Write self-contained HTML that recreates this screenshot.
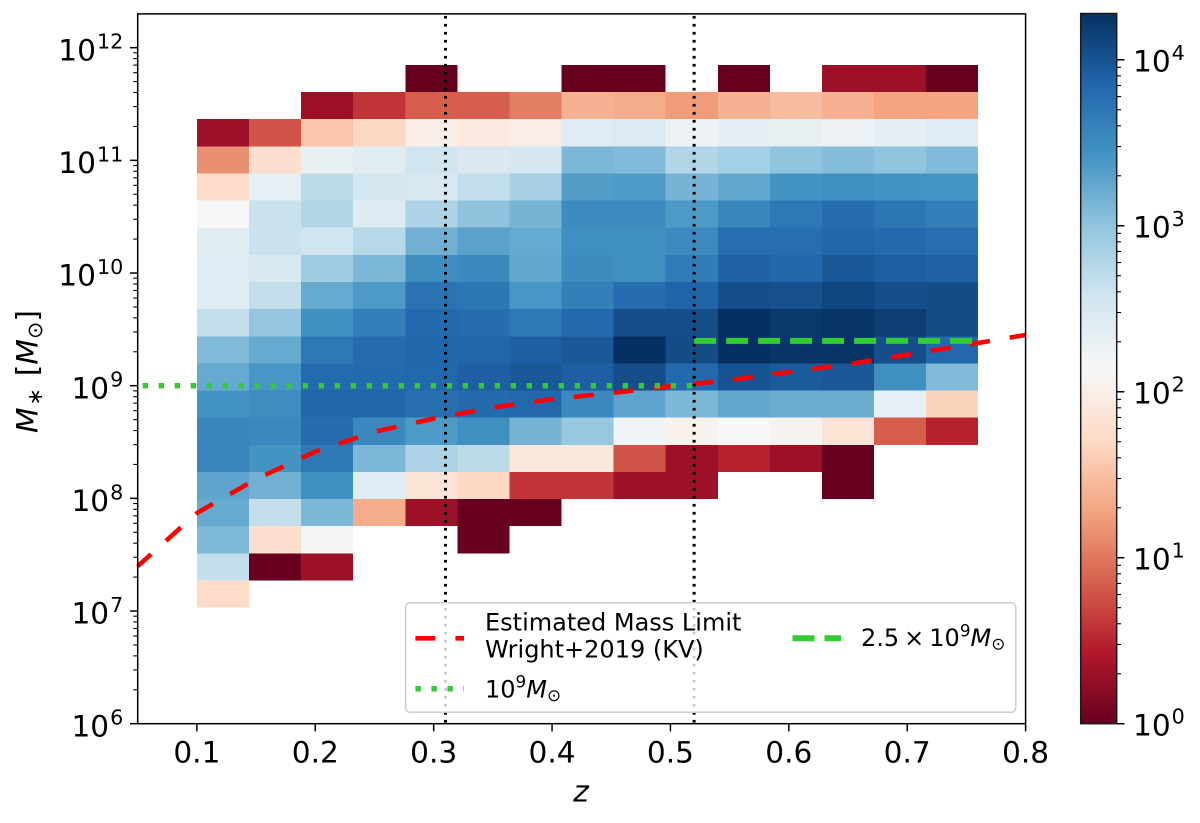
<!DOCTYPE html>
<html lang="en">
<head>
<meta charset="utf-8">
<title>Stellar mass versus redshift</title>
<style>
html,body{margin:0;padding:0;background:#fff;}
svg{display:block;font-family:"DejaVu Sans","Liberation Sans",sans-serif;fill:#000;}
</style>
</head>
<body>
<svg id="chart" width="1200" height="823" viewBox="0 0 1200 823" xmlns="http://www.w3.org/2000/svg">
  <defs>
    <linearGradient id="cbar-gradient" x1="0" y1="1" x2="0" y2="0"></linearGradient>
  </defs>
  <g id="heatmap"></g>
  <g id="lines"></g>
  <g id="axes"></g>
  <g id="colorbar"></g>

  <g>
    <rect x="405.6" y="602.7" width="610.2" height="109.6" rx="4.5" fill="#ffffff" fill-opacity="0.8" stroke="#cccccc" stroke-width="1.5"/>
    <line x1="415.4" y1="638.3" x2="464" y2="638.3" stroke="#ff0000" stroke-width="4.6" stroke-dasharray="20 20"/>
    <text x="485" y="630.7" font-size="24">Estimated Mass Limit</text>
    <text x="485" y="657.3" font-size="24">Wright+2019 (KV)</text>
    <line x1="415.4" y1="688.7" x2="464" y2="688.7" stroke="#32cd32" stroke-width="5.5" stroke-dasharray="5.5 10.5"/>
    <text x="485" y="697.3" font-size="24">10<tspan font-size="16.8" dy="-9.6">9</tspan><tspan font-style="italic" dy="9.6">M</tspan><tspan font-size="16.8" dy="3.6">⊙</tspan></text>
    <line x1="792.5" y1="638.3" x2="841" y2="638.3" stroke="#32cd32" stroke-width="6" stroke-dasharray="22 10"/>
    <text x="861" y="646" font-size="24">2.5<tspan dx="5">×</tspan><tspan dx="5">10</tspan><tspan font-size="16.8" dy="-9.6">9</tspan><tspan font-style="italic" dy="9.6">M</tspan><tspan font-size="16.8" dy="3.6">⊙</tspan></text>
  </g>
</svg>

<script>
// ---- Data ----
const zBinEdges = [0.1, 0.144, 0.188, 0.232, 0.276, 0.32, 0.364, 0.408, 0.452, 0.496, 0.54, 0.584, 0.628, 0.672, 0.716, 0.76];
const logMassBinEdges = [11.847, 11.606, 11.365, 11.124, 10.883, 10.643, 10.402, 10.161, 9.92, 9.679, 9.438, 9.198, 8.957, 8.716, 8.475, 8.234, 7.994, 7.753, 7.512, 7.271, 7.03];
const _ = null;
// one row per mass bin (most massive first), one entry per redshift bin
const galaxyCounts = [
  [_, _, _, _, 1, _, _, 1, 1, _, 1, _, 2, 2, 1],
  [_, _, 2, 4, 7, 7, 11, 24, 22, 17, 24, 30, 24, 19, 19],
  [2, 6, 35, 49, 100, 83, 100, 250, 275, 185, 225, 205, 185, 225, 250],
  [14, 60, 200, 235, 367, 290, 330, 1300, 1200, 600, 730, 1000, 1150, 1000, 1200],
  [55, 215, 500, 330, 315, 450, 700, 2200, 2300, 1400, 1800, 2650, 2900, 2650, 2600],
  [138, 410, 600, 270, 640, 1030, 1400, 3200, 3200, 2300, 3500, 4800, 6100, 5000, 4100],
  [235, 410, 367, 545, 1500, 2000, 1700, 2900, 2800, 3200, 6000, 6000, 7000, 6500, 6000],
  [250, 300, 800, 1300, 3000, 3300, 1800, 3100, 2900, 4500, 7700, 7000, 9400, 8200, 7800],
  [250, 450, 1700, 2300, 5300, 5000, 2500, 4100, 6100, 7400, 11000, 10500, 12800, 11000, 11500],
  [460, 950, 2800, 4100, 6700, 6100, 4800, 6700, 11000, 11000, 19000, 16000, 17500, 15000, 11500],
  [1200, 1700, 4800, 6300, 7000, 7200, 8100, 9200, 19000, 11500, 19000, 17000, 18000, 11000, 6800],
  [1700, 2500, 6300, 6500, 6800, 8000, 9200, 8000, 11000, 6700, 10000, 8700, 9400, 2900, 1200],
  [2650, 3000, 7000, 7000, 5800, 6500, 6800, 3300, 1900, 1300, 1800, 1600, 1600, 215, 45],
  [3500, 3400, 6400, 3400, 2300, 2900, 1400, 900, 165, 110, 138, 115, 70, 7, 3],
  [3600, 2650, 4800, 1300, 640, 520, 80, 80, 6, 2, 3, 2, 1, _, _],
  [1900, 1500, 2900, 250, 70, 50, 4, 4, 2, 2, _, _, 1, _, _],
  [1700, 450, 1300, 22, 2, 1, 1, _, _, _, _, _, _, _, _],
  [1250, 60, 150, _, _, 1, _, _, _, _, _, _, _, _, _],
  [450, 1, 2, _, _, _, _, _, _, _, _, _, _, _, _],
  [55, _, _, _, _, _, _, _, _, _, _, _, _, _, _]
];
const limitZ = [0.05, 0.1, 0.15, 0.2, 0.25, 0.3, 0.35, 0.4, 0.45, 0.5, 0.55, 0.6, 0.65, 0.7, 0.75, 0.8];
const limitMass = [2.5e7, 7.4e7, 1.48e8, 2.6e8, 3.9e8, 5.1e8, 6.4e8, 7.6e8, 8.6e8, 9.9e8, 1.12e9, 1.32e9, 1.55e9, 1.88e9, 2.3e9, 2.82e9];
const lowMassCut = [1e9];
const lowCutZ = [0.05, 0.52];
const highMassCut = [2.5e9];
const highCutZ = [0.52, 0.76];
const redshiftCuts = [0.31, 0.52];
const xTickLabels = ["0.1", "0.2", "0.3", "0.4", "0.5", "0.6", "0.7", "0.8"];
const yTickExponents = ["6", "7", "8", "9", "10", "11", "12"];
const cbarTickExponents = ["0", "1", "2", "3", "4"];
const countMin = [1];
const countMax = [19000];
const zRange = [0.05, 0.8];
const logMassRange = [6, 12.3];
const rdBuStops = ["#67001f", "#b2182b", "#d6604d", "#f4a582", "#fddbc7", "#f7f7f7", "#d1e5f0", "#92c5de", "#4393c3", "#2166ac", "#053061"];

// ---- Geometry and scales ----
const plotLeft = 137.7, plotRight = 1025.6, plotBottom = 723.7, decadePx = 112.67;
const plotTop = plotBottom - (logMassRange[1] - logMassRange[0]) * decadePx;
const barLeft = 1080.7, barRight = 1116.7, barTop = 13.5, barBottom = 723.7;
const svgNS = "http://www.w3.org/2000/svg";

function xScale(z) { return plotLeft + (z - zRange[0]) / (zRange[1] - zRange[0]) * (plotRight - plotLeft); }
function yLog(logM) { return plotBottom - (logM - logMassRange[0]) * decadePx; }
function yScale(m) { return yLog(Math.log10(m)); }
function normCount(c) { return Math.log10(c / countMin[0]) / Math.log10(countMax[0] / countMin[0]); }
function cbarY(logC) { return barBottom - logC / Math.log10(countMax[0] / countMin[0]) * (barBottom - barTop); }

function hexToRgb(h) { return [1, 3, 5].map(function (i) { return parseInt(h.substr(i, 2), 16); }); }
function colorFor(t) {
  const clamped = Math.max(0, Math.min(1, t));
  const pos = clamped * (rdBuStops.length - 1);
  const i = Math.min(Math.floor(pos), rdBuStops.length - 2);
  const f = pos - i;
  const a = hexToRgb(rdBuStops[i]), b = hexToRgb(rdBuStops[i + 1]);
  return "rgb(" + a.map(function (v, k) { return Math.round(v + (b[k] - v) * f); }).join(",") + ")";
}
function svgEl(tag, attrs, parent) {
  const el = document.createElementNS(svgNS, tag);
  Object.keys(attrs).forEach(function (k) { el.setAttribute(k, attrs[k]); });
  parent.appendChild(el);
  return el;
}
function powerLabel(parent, exponent, xPos, yPos, anchor) {
  const t = svgEl("text", { x: xPos, y: yPos, "font-size": 29.6, "text-anchor": anchor }, parent);
  t.appendChild(document.createTextNode("10"));
  const s = svgEl("tspan", { "font-size": 20.7, dy: -11.7, dx: 1 }, t);
  s.textContent = exponent;
  return t;
}

// ---- Heatmap ----
const heatmap = document.getElementById("heatmap");
galaxyCounts.forEach(function (row, r) {
  row.forEach(function (count, c) {
    if (count === null) return;
    const x0 = xScale(zBinEdges[c]), x1 = xScale(zBinEdges[c + 1]);
    const y0 = yLog(logMassBinEdges[r]), y1 = yLog(logMassBinEdges[r + 1]);
    const cell = svgEl("rect", { x: x0, y: y0, width: x1 - x0, height: y1 - y0, fill: colorFor(normCount(count)), "shape-rendering": "crispEdges" }, heatmap);
    
    
  });
});

// ---- Lines ----
const lines = document.getElementById("lines");
const limitPoints = limitZ.map(function (z, i) { return xScale(z) + "," + yScale(limitMass[i]); }).join(" ");
const limitLine = svgEl("polyline", { points: limitPoints, fill: "none", stroke: "#ff0000", "stroke-width": 4.6, "stroke-dasharray": "20 20", "stroke-dashoffset": 2 }, lines);



const lowCut = svgEl("line", { x1: xScale(lowCutZ[0]), x2: xScale(lowCutZ[1]), y1: yScale(lowMassCut[0]), y2: yScale(lowMassCut[0]), stroke: "#32cd32", "stroke-width": 5.5, "stroke-dasharray": "5.3 10.7", "stroke-dashoffset": -5 }, lines);



const highCut = svgEl("line", { x1: xScale(highCutZ[0]), x2: xScale(highCutZ[1]), y1: yScale(highMassCut[0]), y2: yScale(highMassCut[0]), stroke: "#32cd32", "stroke-width": 6, "stroke-dasharray": "22 10" }, lines);



redshiftCuts.forEach(function (z) {
  const v = svgEl("line", { x1: xScale(z), x2: xScale(z), y1: plotTop, y2: plotBottom, stroke: "#000000", "stroke-width": 3, "stroke-dasharray": "2.8 5.2", "stroke-dashoffset": -2 }, lines);
  
  
});

// ---- Axes ----
const axes = document.getElementById("axes");
const frame = svgEl("rect", { x: plotLeft, y: plotTop, width: plotRight - plotLeft, height: plotBottom - plotTop, fill: "none", stroke: "#000000", "stroke-width": 1.5 }, axes);



xTickLabels.forEach(function (label) {
  const px = xScale(parseFloat(label));
  const tick = svgEl("line", { x1: px, x2: px, y1: plotBottom, y2: plotBottom + 7.7, stroke: "#000000", "stroke-width": 1.5 }, axes);
  
  
  const text = svgEl("text", { x: px, y: 762.7, "font-size": 29.6, "text-anchor": "middle" }, axes);
  text.textContent = label;
  
  
});

yTickExponents.forEach(function (exp) {
  const e = parseInt(exp, 10);
  const py = yLog(e);
  const tick = svgEl("line", { x1: plotLeft - 7.7, x2: plotLeft, y1: py, y2: py, stroke: "#000000", "stroke-width": 1.5 }, axes);
  
  
  const text = powerLabel(axes, exp, 123.3, py + 12.6, "end");
  
  
  for (let m = 2; m <= 9; m++) {
    const my = yLog(e + Math.log10(m));
    if (my < plotTop) continue;
    const minor = svgEl("line", { x1: plotLeft - 4.4, x2: plotLeft, y1: my, y2: my, stroke: "#000000", "stroke-width": 1.1 }, axes);
    
    
  }
});

const xTitle = svgEl("text", { x: 581, y: 801.7, "font-size": 29.6, "font-style": "italic", "text-anchor": "middle" }, axes);
xTitle.textContent = "z";



const yTitle = svgEl("text", { x: 0, y: 0, "font-size": 29.6, transform: "translate(37.5 433) rotate(-90)" }, axes);


const yM = svgEl("tspan", { "font-style": "italic" }, yTitle);
yM.textContent = "M";
const yStar = svgEl("tspan", { "font-size": 20.7, dy: 4.4, dx: 2 }, yTitle);
yStar.textContent = "∗";
const yOpen = svgEl("tspan", { dy: -4.4, dx: 12 }, yTitle);
yOpen.textContent = "[";
const yM2 = svgEl("tspan", { "font-style": "italic" }, yTitle);
yM2.textContent = "M";
const ySun = svgEl("tspan", { "font-size": 20.7, dy: 4.4 }, yTitle);
ySun.textContent = "⊙";
const yClose = svgEl("tspan", { dy: -4.4 }, yTitle);
yClose.textContent = "]";

// ---- Colorbar ----
const gradient = document.getElementById("cbar-gradient");
rdBuStops.forEach(function (color, i) {
  svgEl("stop", { offset: i / (rdBuStops.length - 1), "stop-color": color }, gradient);
});
const colorbar = document.getElementById("colorbar");
const barRect = svgEl("rect", { x: barLeft, y: barTop, width: barRight - barLeft, height: barBottom - barTop, fill: "url(#cbar-gradient)", stroke: "#1a1a1a", "stroke-width": 1.5 }, colorbar);



cbarTickExponents.forEach(function (exp) {
  const e = parseInt(exp, 10);
  const py = cbarY(e);
  const tick = svgEl("line", { x1: barRight, x2: barRight + 7.7, y1: py, y2: py, stroke: "#000000", "stroke-width": 1.5 }, colorbar);
  
  
  const text = powerLabel(colorbar, exp, 1133, py + 11.7, "start");
  
  
  for (let m = 2; m <= 9; m++) {
    const lv = e + Math.log10(m);
    if (lv > Math.log10(countMax[0] / countMin[0])) continue;
    const my = cbarY(lv);
    const minor = svgEl("line", { x1: barRight, x2: barRight + 4.4, y1: my, y2: my, stroke: "#000000", "stroke-width": 1.1 }, colorbar);
    
    
  }
});
</script>
</body>
</html>
